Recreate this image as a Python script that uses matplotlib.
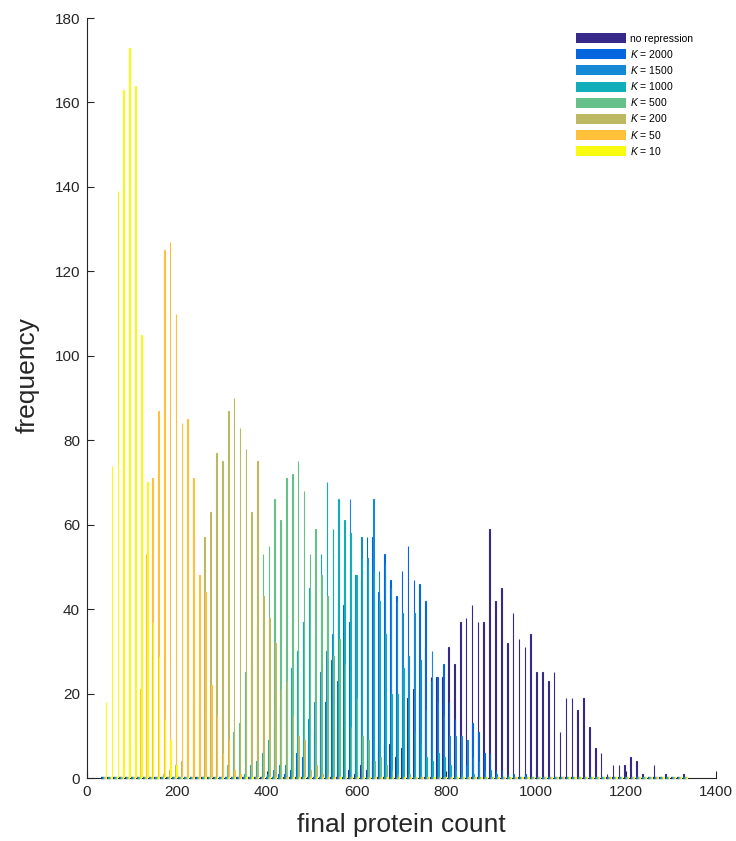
import numpy as np
import matplotlib
matplotlib.use("Agg")
import matplotlib.pyplot as plt
from matplotlib.patches import Patch

plt.rcParams['font.family'] = ['Liberation Sans', 'DejaVu Sans']
plt.rcParams['mathtext.fontset'] = 'custom'
plt.rcParams['mathtext.it'] = 'Liberation Sans:italic'
plt.rcParams['mathtext.rm'] = 'Liberation Sans'

# ---- data: shared histogram bins (100 bins) ----
n_bins = 100
bin_first_center = 38.0
bin_last_center = 1332.0

series_labels = ["no repression", "$K$ = 2000", "$K$ = 1500", "$K$ = 1000",
                 "$K$ = 500", "$K$ = 200", "$K$ = 50", "$K$ = 10"]
series_colors = ["#37298A", "#0567E0", "#1589D6", "#10AEBA",
                 "#65C08A", "#BDB963", "#FFC03A", "#F8FA10"]

# counts per bin, each list starting at the given bin index
norep_start = 40
norep_counts = [1, 0, 2, 1, 3, 2, 4, 7, 8, 8, 5, 7, 19, 21, 20, 31, 24, 24, 24, 31,
                27, 37, 38, 41, 37, 37, 59, 42, 45, 32, 39, 33, 31, 34, 25, 25, 23, 25, 11, 19,
                19, 16, 19, 12, 7, 6, 1, 3, 3, 3, 5, 4, 1, 0, 3, 0, 1, 0, 0, 1]
k2000_start = 30
k2000_counts = [1, 1, 2, 6, 5, 8, 11, 20, 18, 28, 23, 41, 37, 40, 47, 57, 57, 44, 53, 47,
                43, 49, 55, 47, 46, 42, 23, 24, 27, 18, 14, 8, 3, 13, 11, 6, 6, 2, 2, 1, 1, 0, 1]
k1500_start = 28
k1500_counts = [1, 2, 3, 3, 5, 8, 9, 14, 18, 25, 30, 34, 42, 50, 66, 48, 57, 52, 66, 49,
                51, 45, 42, 39, 29, 39, 28, 16, 30, 18, 15, 10, 10, 10, 9, 5, 4, 2, 2, 1]
k1000_start = 24
k1000_counts = [1, 3, 4, 6, 9, 12, 17, 21, 26, 30, 37, 45, 34, 53, 70, 59, 66, 61, 58, 48,
                52, 51, 49, 42, 34, 20, 20, 26, 19, 11, 8, 5, 4, 6, 5, 3, 2, 1, 0, 1]
k500_start = 17
k500_counts = [1, 1, 2, 3, 3, 11, 13, 25, 28, 36, 53, 55, 66, 61, 71, 72, 75, 68, 53, 59,
               48, 43, 29, 33, 27, 12, 19, 10, 9, 4, 5, 3, 2, 1, 0, 1]
k200_start = 10
k200_counts = [1, 2, 3, 4, 8, 18, 18, 57, 63, 77, 75, 87, 90, 83, 78, 63, 75, 43, 38, 32,
               21, 23, 15, 10, 9, 2, 3, 1, 1]
k50_start = 3
k50_counts = [2, 3, 8, 21, 53, 71, 87, 125, 127, 110, 84, 85, 71, 48, 44, 22, 15, 6, 9, 2, 1]
k10_start = 0
k10_counts = [18, 74, 139, 163, 173, 164, 105, 70, 37, 29, 14, 9, 3]

x_ticks = [0, 200, 400, 600, 800, 1000, 1200, 1400]
y_ticks = [0, 20, 40, 60, 80, 100, 120, 140, 160, 180]

# ---- build full matrix ----
starts = [norep_start, k2000_start, k1500_start, k1000_start, k500_start, k200_start, k50_start, k10_start]
counts = [norep_counts, k2000_counts, k1500_counts, k1000_counts, k500_counts, k200_counts, k50_counts, k10_counts]
centers = np.linspace(bin_first_center, bin_last_center, n_bins)
bw = centers[1] - centers[0]
n_series = len(counts)
M = np.zeros((n_series, n_bins))
for s, (st, c) in enumerate(zip(starts, counts)):
    M[s, st:st + len(c)] = c

fig = plt.figure(figsize=(7.36, 8.41), dpi=100)
ax = fig.add_axes([87 / 736, 1 - 778 / 841, (716 - 87) / 736, (778 - 18) / 841])

group_w = 0.8 * bw
bar_w = group_w / n_series
for s in range(n_series):
    offs = (s - (n_series - 1) / 2) * bar_w
    xs = centers + offs
    ax.bar(xs, M[s], width=bar_w, color=series_colors[s],
           edgecolor=series_colors[s], linewidth=0.8, zorder=2 + s)
    # zero-height bar outlines on the baseline
    ax.hlines(np.zeros(n_bins), xs - bar_w, xs + bar_w, colors=series_colors[s],
              linewidth=1.6, zorder=2 + s, clip_on=False)

ax.set_xlim(0, 1400)
ax.set_ylim(0, 180)
ax.set_xticks(x_ticks)
ax.set_yticks(y_ticks)
ax.tick_params(direction='in', length=5, width=0.8, colors='#262626', labelsize=11, pad=5)
for sp in ['top', 'right']:
    ax.spines[sp].set_visible(False)
for sp in ['left', 'bottom']:
    ax.spines[sp].set_color('#262626')
    ax.spines[sp].set_linewidth(0.8)
ax.spines['bottom'].set_zorder(1)

ax.set_xlabel("final protein count", fontsize=19, color='#262626', labelpad=10)
ax.set_ylabel("frequency", fontsize=19, color='#262626')
ax.yaxis.set_label_coords(-0.075, 0.530)

handles = [Patch(facecolor=series_colors[s], edgecolor='none') for s in range(n_series)]
fig.legend(handles, series_labels, loc='upper left',
           bbox_to_anchor=(576 / 736, 1 - 33 / 841), bbox_transform=fig.transFigure,
           frameon=False, fontsize=7.5, handlelength=4.8, handleheight=1.1,
           labelspacing=0.4, handletextpad=0.4, borderpad=0, borderaxespad=0)

fig.savefig("out.png", dpi=100)
